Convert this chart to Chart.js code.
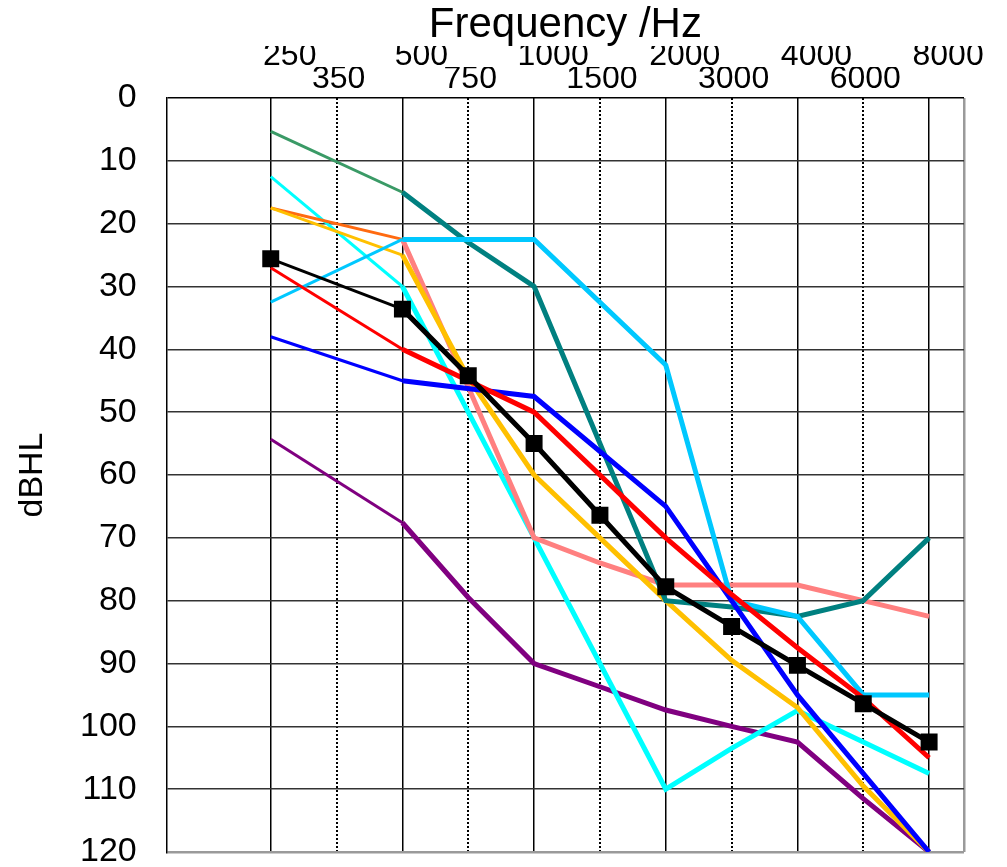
<!DOCTYPE html>
<html>
<head>
<meta charset="utf-8">
<script src="https://cdn.jsdelivr.net/npm/chart.js@4.4.1/dist/chart.umd.min.js"></script>
<style>
  html, body { margin: 0; padding: 0; background: #fff; }
  #wrap { width: 1007px; height: 867px; }
</style>
</head>
<body>
<div id="wrap"><canvas id="audiogram"></canvas></div>
<script>
// frequencies, one slot per column of the audiogram (octaves and half octaves)
const frequencies = ['250', '350', '500', '750', '1000', '1500', '2000', '3000', '4000', '6000', '8000'];
const octaveLabels = ['250', '500', '1000', '2000', '4000', '8000'];
const halfOctaveLabels = ['350', '750', '1500', '3000', '6000'];

// hearing levels in dB HL, null where the curve has no point
const meanLevels   = [25.6, null, 33.6, 44.2, 55, 66.4, 77.8, 84.1, 90.3, 96.4, 102.5];
const redLevels    = [27, null, 40, null, 50, 60, 70, 79, 87.5, 95.5, 105];
const blueLevels   = [38, null, 45, null, 47.5, null, 65, null, 95, null, 120];
const goldLevels   = [17.5, null, 25, 44.5, 60, 70, 80, 89.5, 97, 109.5, 120];
const tealLevels   = [5.3, null, 15, 23, 30, 55, 80, 81, 82.5, 80, 70];
const salmonLevels = [17.5, null, 22.5, 46, 70, 74, 77.5, 77.5, 77.5, 80, 82.5];
const skyLevels    = [32.5, null, 22.5, 22.5, 22.5, 32.5, 42.5, 80, 82.5, 95, 95];
const aquaLevels   = [12.5, null, 30, 50, 70, 90, 110, 103.5, 97.5, 102.5, 107.5];
const purpleLevels = [54.3, null, 67.6, 79.5, 90, 93.7, 97.4, 100, 102.5, 111.5, 120];

const X_MIN = -1.58;
const X_MAX = 10.53;

Chart.defaults.font.family = "'Liberation Sans', Arial, sans-serif";
Chart.defaults.color = '#000';

// turn a value list into {x, y} points, skipping the empty slots
function toPoints(values) {
    return values
        .map((v, i) => (v === null ? null : { x: i, y: v }))
        .filter(Boolean);
}

// first segment (250-500 Hz) is drawn thinner and sometimes in another colour
function series(values, color, firstColor, extra) {
    return Object.assign({
        data: toPoints(values),
        borderColor: color,
        borderWidth: 5,
        pointRadius: 0,
        fill: false,
        tension: 0,
        segment: {
            borderWidth: c => (c.p0DataIndex === 0 ? 3 : 5),
            borderColor: c => (c.p0DataIndex === 0 ? (firstColor || color) : color),
        },
    }, extra || {});
}

const datasets = [
    series(meanLevels, '#000000', null, {
        pointStyle: 'rect',
        pointRadius: 12,
        pointBackgroundColor: '#000',
        pointBorderColor: '#000',
        pointBorderWidth: 0,
    }),
    series(redLevels, '#ff0000'),
    series(blueLevels, '#0000ff'),
    series(skyLevels, '#00c8ff'),
    series(tealLevels, '#008080', '#3a9a66'),
    series(goldLevels, '#ffc000'),
    series(salmonLevels, '#ff8080', '#ff6a10'),
    series(aquaLevels, '#00ffff'),
    series(purpleLevels, '#800080'),
];

const octaveTicks = [0, 2, 4, 6, 8, 10, X_MAX];
const halfTicks = [1, 3, 5, 7, 9];

new Chart(document.getElementById('audiogram'), {
    type: 'line',
    data: { datasets },
    options: {
        responsive: true,
        maintainAspectRatio: false,
        animation: false,
        layout: { padding: { left: 0, right: 43, top: 0, bottom: 15 } },
        plugins: {
            legend: { display: false },
            tooltip: { enabled: false },
            title: {
                display: true,
                text: 'Frequency /Hz',
                fullSize: false,
                color: '#000',
                font: { size: 42, weight: 'normal', lineHeight: 1 },
                padding: { top: 4, bottom: 0 },
            },
        },
        scales: {
            x: {
                type: 'linear',
                position: 'top',
                weight: 1,
                min: X_MIN,
                max: X_MAX,
                afterBuildTicks: scale => {
                    scale.ticks = octaveTicks.map(v => ({ value: v }));
                },
                ticks: {
                    autoSkip: false,
                    maxRotation: 0,
                    minRotation: 0,
                    padding: 0.5,
                    labelOffset: 19,
                    font: { size: 32, lineHeight: 0.625 },
                    callback: v => (v === X_MAX ? '' : octaveLabels[v / 2]),
                },
                grid: {
                    drawTicks: false,
                    color: c => (c.tick && c.tick.value === X_MAX ? '#9a9a9a' : '#000'),
                    lineWidth: c => (c.tick && c.tick.value === X_MAX ? 2.5 : 1.5),
                },
                border: { display: false },
            },
            xHalf: {
                type: 'linear',
                position: 'top',
                weight: 0,
                min: X_MIN,
                max: X_MAX,
                afterBuildTicks: scale => {
                    scale.ticks = halfTicks.map(v => ({ value: v }));
                },
                ticks: {
                    autoSkip: false,
                    maxRotation: 0,
                    minRotation: 0,
                    padding: 2,
                    labelOffset: 2,
                    font: { size: 32, lineHeight: 0.625 },
                    callback: v => halfOctaveLabels[(v - 1) / 2],
                },
                grid: {
                    drawTicks: true,
                    tickLength: 7,
                    tickColor: 'rgba(0,0,0,0)',
                    color: '#000',
                    lineWidth: 2,
                },
                border: { display: false, dash: [2, 2] },
            },
            y: {
                type: 'linear',
                reverse: true,
                min: 0,
                max: 120,
                ticks: {
                    stepSize: 10,
                    padding: 0,
                    font: { size: 34, lineHeight: 0.8 },
                },
                grid: {
                    drawTicks: true,
                    tickLength: 30,
                    tickColor: 'rgba(0,0,0,0)',
                    color: c => (c.tick && c.tick.value === 120 ? '#9a9a9a' : (c.tick && c.tick.value === 0 ? '#000' : '#333')),
                    lineWidth: c => (c.tick && c.tick.value === 120 ? 2.5 : 1.5),
                },
                border: { display: true, color: '#000', width: 1.5 },
                title: {
                    display: true,
                    text: 'dBHL',
                    color: '#000',
                    font: { size: 34, lineHeight: 1 },
                    padding: { top: 16, bottom: 30 },
                },
            },
        },
    },
});
</script>
</body>
</html>
